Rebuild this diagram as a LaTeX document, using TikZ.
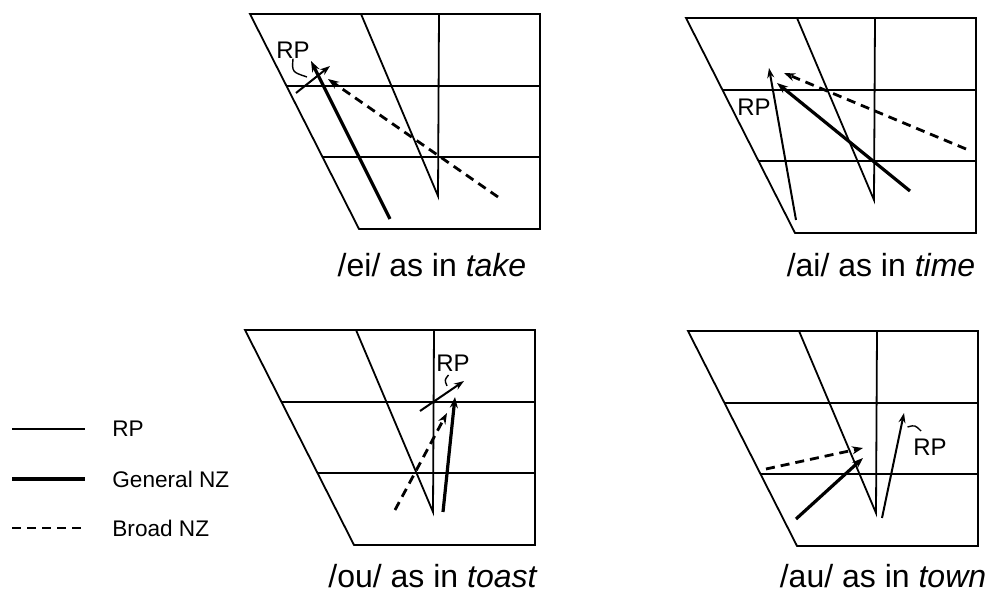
\documentclass[tikz,border=0pt]{standalone}
\usepackage{fontspec}
\setmainfont{Liberation Sans}
\usetikzlibrary{arrows.meta}
\tikzset{
  chartline/.style={line width=0.9pt},
  rpline/.style={line width=1pt,-{Stealth[length=5pt,width=3.5pt]}},
  genline/.style={line width=1.6pt,-{Stealth[length=5.5pt,width=4pt]}},
  broadline/.style={line width=1.4pt,dash pattern=on 4.5pt off 3pt,-{Stealth[length=5.5pt,width=4pt]}},
  rplabel/.style={font=\fontsize{12}{14}\selectfont,inner sep=0pt},
  caption/.style={font=\fontsize{16}{19}\selectfont,inner sep=0pt},
  legendtext/.style={font=\fontsize{11.3}{13}\selectfont,anchor=west,inner sep=0pt},
}
\begin{document}
\begin{tikzpicture}[x=0.5pt,y=-0.5pt]
\useasboundingbox (0,0) rectangle (991,597);
% Vowel charts
\foreach \ox/\oy in {250/14,686/18,245/330,688/331} {
  \begin{scope}[shift={(\ox,\oy)}]
  \draw[chartline] (0,0) -- (290,0) -- (290,215) -- (109,215) -- cycle;
  \draw[chartline] (36.5,72) -- (290,72);
  \draw[chartline] (72.5,143) -- (290,143);
  \draw[chartline] (111,0) -- (188,182) -- (189,0);
  \end{scope}
}
% /ei/ as in take
\draw[genline] (390,219) -- (311,61);
\draw[rpline] (296,93) -- (330,66);
\draw[broadline] (498,197) -- (328,79);
\node[rplabel] (rpei) at (293,50) {RP};
\draw[line width=0.7pt] (rpei.south) .. controls (292,72) .. (307,77);
\node[caption] (capei) at (432,265) {/ei/ as in \textit{take}};
% /ai/ as in time
\draw[rpline] (796,220) -- (769,68);
\draw[genline] (910,191) -- (777,83);
\draw[broadline] (966,149) -- (784,73);
\node[rplabel] (rpai) at (754,107) {RP};
\node[caption] (capai) at (881,265) {/ai/ as in \textit{time}};
% /ou/ as in toast
\draw[rpline] (420,411) -- (464,381);
\draw[genline] (443,512) -- (455,397);
\draw[broadline] (395,510) -- (447,413);
\node[rplabel] (rpou) at (453,363) {RP};
\draw[line width=0.7pt] (448.5,375) .. controls (444.5,380) .. (447,386);
\node[caption] (capou) at (433,576) {/ou/ as in \textit{toast}};
% /au/ as in town
\draw[broadline] (766,469) -- (863,448);
\draw[genline] (796,519) -- (863,458);
\draw[rpline] (882,518) -- (904,413);
\node[rplabel] (rpau) at (930,447) {RP};
\draw[line width=0.7pt] (907.5,427) .. controls (915,425) .. (921,431);
\node[caption] (capau) at (883,576) {/au/ as in \textit{town}};
% Legend
\node[legendtext] (legrp) at (112,429) {RP};
\node[legendtext] (leggen) at (112,479) {General NZ};
\node[legendtext] (legbroad) at (112,528) {Broad NZ};
\draw[rpline,-] (12,429) -- (85,429);
\draw[genline,-] (12,479) -- (85,479);
\draw[broadline,-] (12,528) -- (85,528);
\end{tikzpicture}
\end{document}
